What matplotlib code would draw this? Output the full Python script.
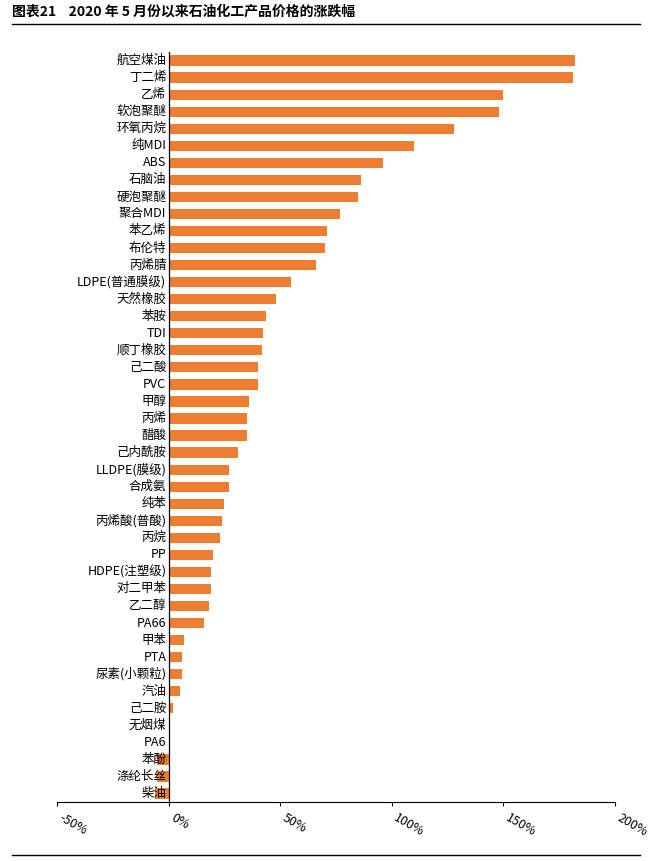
import matplotlib
matplotlib.use("Agg")
import matplotlib.pyplot as plt
from matplotlib.ticker import FuncFormatter

plt.rcParams['font.family'] = ['Noto Sans CJK SC', 'DejaVu Sans']

categories = ["航空煤油","丁二烯","乙烯","软泡聚醚","环氧丙烷","纯MDI","ABS","石脑油","硬泡聚醚","聚合MDI",
              "苯乙烯","布伦特","丙烯腈","LDPE(普通膜级)","天然橡胶","苯胺","TDI","顺丁橡胶","己二酸","PVC",
              "甲醇","丙烯","醋酸","己内酰胺","LLDPE(膜级)","合成氨","纯苯","丙烯酸(普酸)","丙烷","PP",
              "HDPE(注塑级)","对二甲苯","乙二醇","PA66","甲苯","PTA","尿素(小颗粒)","汽油","己二胺","无烟煤",
              "PA6","苯酚","涤纶长丝","柴油"]
values = [182,181,150,148,128,110,96,86,85,77,
          71,70,66,55,48,43.5,42.5,42,40,40,
          36,35,35,31,27,27,25,24,23,20,
          19,19,18,16,7,6,6,5,2,0,
          0,-5,-5,-6]
xticks = [-50,0,50,100,150,200]

fig = plt.figure(figsize=(6.56,8.61), dpi=100)
ax = fig.add_axes([57/656, 1-802/861, (615-57)/656, (802-52)/861])
y = list(range(len(categories)))
ax.barh(y, values, height=0.6, color='#ED7D31')
ax.set_ylim(len(categories)-0.5, -0.5)
ax.set_xlim(-50,200)
ax.set_xticks(xticks)
ax.xaxis.set_major_formatter(FuncFormatter(lambda v,p: f"{int(v)}%"))
for lab in ax.get_xticklabels():
    lab.set_rotation(-30); lab.set_ha('left'); lab.set_va('top'); lab.set_fontsize(9)
ax.tick_params(axis='x', length=3, direction='out')
ax.set_yticks([])
for s in ['top','right','left']:
    ax.spines[s].set_visible(False)
ax.axvline(0, color='black', lw=0.9)
for i,c in enumerate(categories):
    ax.text(-1, i, c, ha='right', va='center', fontsize=9)

fig.text(12/656, 1-12/861, "图表21    2020 年 5 月份以来石油化工产品价格的涨跌幅", fontsize=10,
         fontweight='bold', va='center', ha='left')
fig.add_artist(plt.Line2D([12/656, 640/656], [1-24/861]*2, color='black', lw=1))
fig.add_artist(plt.Line2D([12/656, 640/656], [1-855/861]*2, color='black', lw=1))
fig.savefig("out.png", dpi=100)
